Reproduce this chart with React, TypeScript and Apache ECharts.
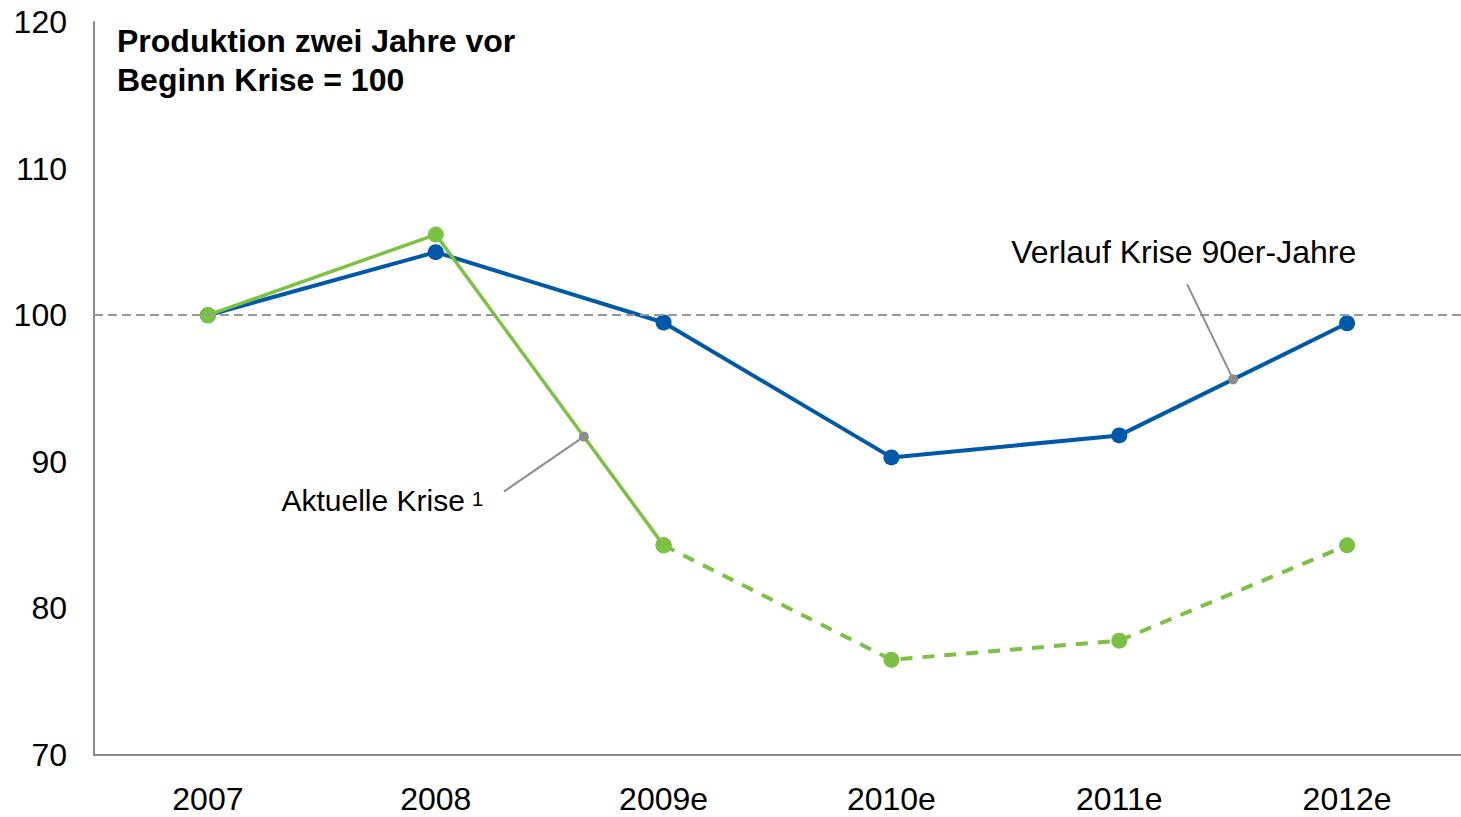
import React, { useEffect, useRef } from "react";
import * as echarts from "echarts";

const categories = ["2007", "2008", "2009e", "2010e", "2011e", "2012e"];
const blue90s = [100, 104.3, 99.5, 90.3, 91.8, 99.45];
const greenActual = [100, 105.5, 84.3, null, null, null];
const greenForecast = [null, null, 84.3, 76.5, 77.8, 84.3];
const yTicks = [70, 80, 90, 100, 110, 120];
const titleLines = ["Produktion zwei Jahre vor", "Beginn Krise = 100"];
const referenceValue = 100;

const BLUE = "#0058a8";
const GREEN = "#7cc143";
const GREY = "#8c8c8c";
const FONT = "'Liberation Sans', Arial, Helvetica, sans-serif";

export default function App() {
  const ref = useRef<HTMLDivElement>(null);
  useEffect(() => {
    if (!ref.current) return;
    const chart = echarts.init(ref.current, null, { renderer: "svg" });
    chart.setOption({
      animation: false,
      backgroundColor: "#fff",
      textStyle: { fontFamily: FONT },
      title: {
        text: titleLines.join("\n"),
        left: 112,
        top: 16,
        padding: 5,
        textStyle: { fontSize: 32, fontWeight: "bold", color: "#000", lineHeight: 39, fontFamily: FONT },
      },
      grid: { left: 94, width: 1372, top: 22, bottom: 62 },
      xAxis: {
        type: "category",
        data: categories,
        boundaryGap: true,
        axisLine: { show: true, lineStyle: { color: GREY, width: 2 } },
        axisTick: { show: false },
        axisLabel: { fontSize: 32, color: "#000", margin: 28, fontFamily: FONT },
        splitLine: { show: false },
      },
      yAxis: {
        type: "value",
        min: yTicks[0],
        max: yTicks[yTicks.length - 1],
        interval: 10,
        axisLine: { show: true, lineStyle: { color: GREY, width: 2 } },
        axisTick: { show: false },
        splitLine: { show: false },
        axisLabel: { fontSize: 32, color: "#000", margin: 27, fontFamily: FONT },
      },
      series: [
        {
          name: "Verlauf Krise 90er-Jahre",
          type: "line",
          data: blue90s,
          symbol: "circle",
          symbolSize: 16,
          itemStyle: { color: BLUE },
          lineStyle: { color: BLUE, width: 4 },
          markLine: {
            silent: true,
            symbol: "none",
            label: { show: false },
            lineStyle: { color: "#999", type: [9, 5], width: 2 },
            data: [{ yAxis: referenceValue }],
          },
          z: 2,
        },
        {
          name: "Aktuelle Krise",
          type: "line",
          data: greenActual,
          symbol: "circle",
          symbolSize: 16,
          itemStyle: { color: GREEN },
          lineStyle: { color: GREEN, width: 3.5 },
          z: 3,
        },
        {
          name: "Prognose",
          type: "line",
          data: greenForecast,
          symbol: "circle",
          symbolSize: 16,
          itemStyle: { color: GREEN },
          lineStyle: { color: GREEN, width: 4, type: [12, 10] },
          z: 3,
        },
      ],
    });

    const interp = (arr: (number | null)[], i: number, t: number) => {
      const a = chart.convertToPixel({ gridIndex: 0 }, [i, arr[i] as number]) as number[];
      const b = chart.convertToPixel({ gridIndex: 0 }, [i + 1, arr[i + 1] as number]) as number[];
      return [a[0] + (b[0] - a[0]) * t, a[1] + (b[1] - a[1]) * t];
    };
    const pg = interp(greenActual, 1, 0.65);
    const pb = interp(blue90s, 4, 0.5);
    const ga = [pg[0] - 80, pg[1] + 55];
    const ba = [pb[0] - 46, pb[1] - 95];

    chart.setOption({
      graphic: [
        { type: "line", shape: { x1: ga[0], y1: ga[1], x2: pg[0], y2: pg[1] }, style: { stroke: GREY, lineWidth: 2 }, z: 10 },
        { type: "circle", shape: { cx: pg[0], cy: pg[1], r: 5 }, style: { fill: GREY }, z: 11 },
        { type: "line", shape: { x1: ba[0], y1: ba[1], x2: pb[0], y2: pb[1] }, style: { stroke: GREY, lineWidth: 2 }, z: 10 },
        { type: "circle", shape: { cx: pb[0], cy: pb[1], r: 5 }, style: { fill: GREY }, z: 11 },
        {
          type: "text",
          x: ga[0] - 39,
          y: ga[1] + 9,
          style: { text: "Aktuelle Krise", font: `30px ${FONT}`, fill: "#000", align: "right", verticalAlign: "middle" },
          z: 10,
        },
        {
          type: "text",
          x: ga[0] - 32,
          y: ga[1] + 7,
          style: { text: "1", font: `21px ${FONT}`, fill: "#000", align: "left", verticalAlign: "middle" },
          z: 10,
        },
        {
          type: "text",
          x: ba[0] - 176,
          y: ba[1] - 32,
          style: { text: "Verlauf Krise 90er-Jahre", font: `32px ${FONT}`, fill: "#000", align: "left", verticalAlign: "middle" },
          z: 10,
        },
      ],
    });

    return () => chart.dispose();
  }, []);
  return <div ref={ref} style={{ width: 1461, height: 817, position: "absolute", left: 0, top: 0 }} />;
}
